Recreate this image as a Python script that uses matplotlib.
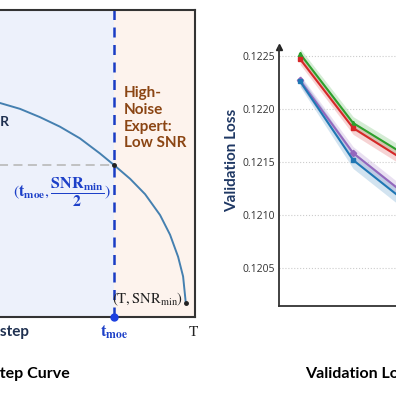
import matplotlib.pyplot as plt

plt.rcParams['font.family'] = ['Lato', 'DejaVu Sans']
plt.rcParams['mathtext.fontset'] = 'stix'

# --- SNR-timestep curve ---
T = 1000
t_moe = 813
curve_t = [450, 516, 568, 620, 672, 724, 776, 813, 855, 894, 933, 959, 980, 993, 1000]
curve_snr = [0.713, 0.697, 0.678, 0.651, 0.620, 0.582, 0.533, 0.495, 0.450, 0.400,
             0.332, 0.268, 0.196, 0.132, 0.046]
snr_moe = 0.495
snr_min = 0.046

# --- validation loss ---
steps = [1, 2, 3, 4, 5, 6]
loss_green = [0.12252, 0.121868, 0.121562, 0.12140, 0.12130, 0.12124]
loss_red = [0.12247, 0.121821, 0.121507, 0.12135, 0.12125, 0.12119]
loss_purple = [0.12227, 0.121585, 0.121189, 0.12100, 0.12090, 0.12084]
loss_blue = [0.12226, 0.121519, 0.121123, 0.12094, 0.12084, 0.12078]
band_green = [0.00005, 0.00006, 0.00006, 0.00006, 0.00006, 0.00006]
band_red = [0.00005, 0.00006, 0.00006, 0.00006, 0.00006, 0.00006]
band_purple = [0.00005, 0.00006, 0.00006, 0.00006, 0.00006, 0.00006]
band_blue = [0.00005, 0.00008, 0.00008, 0.00008, 0.00008, 0.00008]
yticks = [0.1205, 0.1210, 0.1215, 0.1220, 0.1225]

fig = plt.figure(figsize=(3.96, 3.96), dpi=100)

# left panel
ax1 = fig.add_axes([-198/396, 1-317/396, 393/396, 307/396])
ax1.set_xlim(0, 1024)
ax1.set_ylim(0, 1)
ax1.axvspan(0, t_moe, color='#edf1fb', lw=0)
ax1.axvspan(t_moe, 1024, color='#fdf3ed', lw=0)
ax1.plot(curve_t, curve_snr, color='#4580b0', lw=1.4)
ax1.plot([0, t_moe], [snr_moe, snr_moe], ls=(0, (5, 3)), color='#bdbdbd', lw=1.3)
ax1.axvline(t_moe, color='#1a3cc4', ls=(0, (4, 3)), lw=1.8)
ax1.plot(t_moe, snr_moe, 'o', color='#222', ms=2.5)
ax1.plot(T, snr_min, 'o', color='#222', ms=2.5)
ax1.plot(t_moe, 0, 'o', color='#1d40e0', ms=5, clip_on=False, zorder=5)
for s in ax1.spines.values():
    s.set_color('#333')
    s.set_linewidth(1.5)
ax1.set_xticks([])
ax1.set_yticks([])

ax1.text(539, 0.635, 'High SNR', ha='right', va='center', fontsize=10,
         fontweight='bold', color='#1f3050')
ax1.text(839, 0.752, 'High-\nNoise\nExpert:\nLow SNR', ha='left', va='top',
         fontsize=11, fontweight='bold', color='#8b4513', linespacing=1.25)
ax1.text(807, 0.407, r'$(\mathbf{t_{moe}}, \dfrac{\mathbf{SNR_{min}}}{\mathbf{2}})$',
         ha='right', va='center', fontsize=11.5, color='#1d40c8')
ax1.text(993, 0.059, r'$(\mathrm{T}, \mathrm{SNR_{min}})$', ha='right', va='center',
         fontsize=10.5, color='#222')
ax1.text(t_moe, -0.049, r'$\mathbf{t_{moe}}$', ha='center', va='center',
         fontsize=12, color='#1d40c8', clip_on=False)
ax1.text(1019, -0.049, r'$\mathrm{T}$', ha='center', va='center',
         fontsize=11, color='#222', clip_on=False)
ax1.text(594, -0.049, 'Timestep', ha='right', va='center', fontsize=11,
         fontweight='bold', color='#1f3050', clip_on=False)
fig.text(70/396, 1-374/396, 'SNR-Timestep Curve', ha='right', va='center',
         fontsize=11.5, fontweight='bold', color='black')

# right panel
ax2 = fig.add_axes([279/396, 1-306/396, 307/396, 259/396])
ax2.set_xlim(0.6, 6.4)
ax2.set_ylim(0.120142, 0.122585)
series = [
    (loss_green, band_green, '#2ca02c', '^'),
    (loss_red, band_red, '#d62728', 's'),
    (loss_purple, band_purple, '#9467bd', 'D'),
    (loss_blue, band_blue, '#1f77b4', 's'),
]
for vals, band, col, mk in series:
    lo = [v - b for v, b in zip(vals, band)]
    hi = [v + b for v, b in zip(vals, band)]
    ax2.fill_between(steps, lo, hi, color=col, alpha=0.2, lw=0)
    ax2.plot(steps, vals, color=col, lw=1.5, marker=mk, ms=3.2)
ax2.set_yticks(yticks)
ax2.set_yticklabels(['%.4f' % v for v in yticks], fontsize=7.5, family='Open Sans',
                    color='#333')
ax2.tick_params(axis='y', length=0, pad=3)
ax2.set_xticks([])
ax2.grid(axis='y', ls=':', color='#cccccc', lw=0.8)
ax2.spines['top'].set_visible(False)
ax2.spines['right'].set_visible(False)
for s in ['left', 'bottom']:
    ax2.spines[s].set_color('#333')
    ax2.spines[s].set_linewidth(1.3)
ax2.plot(0, 1, marker='^', ms=5, color='#222', transform=ax2.transAxes, clip_on=False)
ax2.set_ylabel('Validation Loss', fontsize=11, fontweight='bold', color='#1f3864')
ax2.yaxis.set_label_coords(-0.13, 0.564)
fig.text(305/396, 1-374/396, 'Validation Loss Curve', ha='left', va='center',
         fontsize=11.5, fontweight='bold', color='black')

fig.savefig('out.png', dpi=100)
plt.close(fig)
